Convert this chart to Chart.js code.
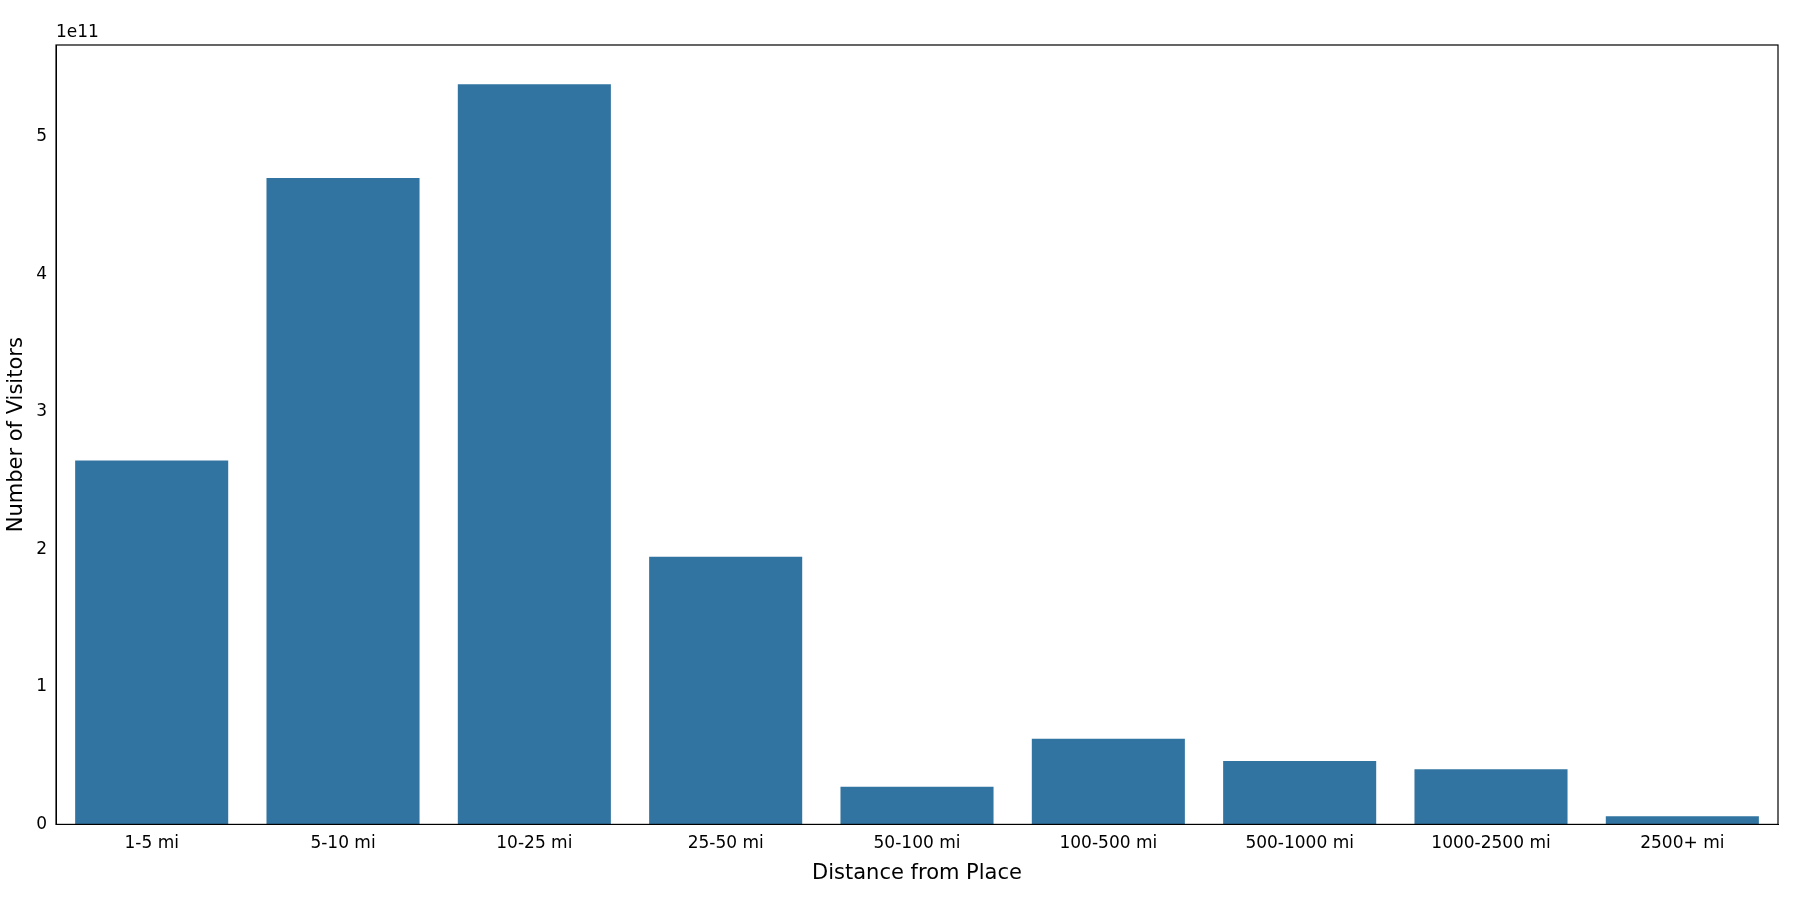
<!DOCTYPE html>
<html>
<head>
<meta charset="utf-8">
<script src="https://cdn.jsdelivr.net/npm/chart.js@4"></script>
<style>
html,body{margin:0;padding:0;background:#fff;}
#wrap{width:1800px;height:900px;position:relative;}
</style>
</head>
<body>
<div id="wrap"><canvas id="chart"></canvas></div>
<script>
// values in units of 1e11 visitors
const categories = ['1-5 mi','5-10 mi','10-25 mi','25-50 mi','50-100 mi','100-500 mi','500-1000 mi','1000-2500 mi','2500+ mi'];
const visitors = [2.645, 4.70, 5.38, 1.945, 0.273, 0.623, 0.461, 0.401, 0.06];
const y_ticks = [0, 1, 2, 3, 4, 5];

const frame_plugin = {
    id: 'frame',
    afterDraw(chart) {
        let ctx = chart.ctx;
        let a = chart.chartArea;
        ctx.save();
        ctx.strokeStyle = '#000';
        ctx.lineWidth = 1.2;
        ctx.strokeRect(a.left, a.top, a.right - a.left, a.bottom - a.top);
        ctx.fillStyle = '#000';
        ctx.font = '17px "DejaVu Sans"';
        ctx.textBaseline = 'bottom';
        ctx.fillText('1e11', a.left, a.top - 4);
        ctx.restore();
    }
};

new Chart(document.getElementById('chart').getContext('2d'), {
    type: 'bar',
    data: {
        labels: categories,
        datasets: [{
            data: visitors,
            backgroundColor: '#3274a1',
            categoryPercentage: 1.0,
            barPercentage: 0.8
        }]
    },
    options: {
        responsive: true,
        maintainAspectRatio: false,
        animation: false,
        layout: {padding: {top: 45, right: 22, left: 0, bottom: 10}},
        plugins: {legend: {display: false}, tooltip: {enabled: false}},
        scales: {
            x: {
                grid: {display: false, drawTicks: true, tickLength: 6},
                border: {color: '#000'},
                ticks: {color: '#000', font: {family: 'DejaVu Sans', size: 17}},
                title: {display: true, text: 'Distance from Place', color: '#000', font: {family: 'DejaVu Sans', size: 21}}
            },
            y: {
                min: 0,
                max: 5.666,
                afterBuildTicks(axis) { axis.ticks = y_ticks.map(v => ({value: v})); },
                grid: {display: false, drawTicks: true, tickLength: 6},
                border: {color: '#000'},
                ticks: {color: '#000', font: {family: 'DejaVu Sans', size: 17}},
                title: {display: true, text: 'Number of Visitors', color: '#000', font: {family: 'DejaVu Sans', size: 21}}
            }
        }
    },
    plugins: [frame_plugin]
});
</script>
</body>
</html>
